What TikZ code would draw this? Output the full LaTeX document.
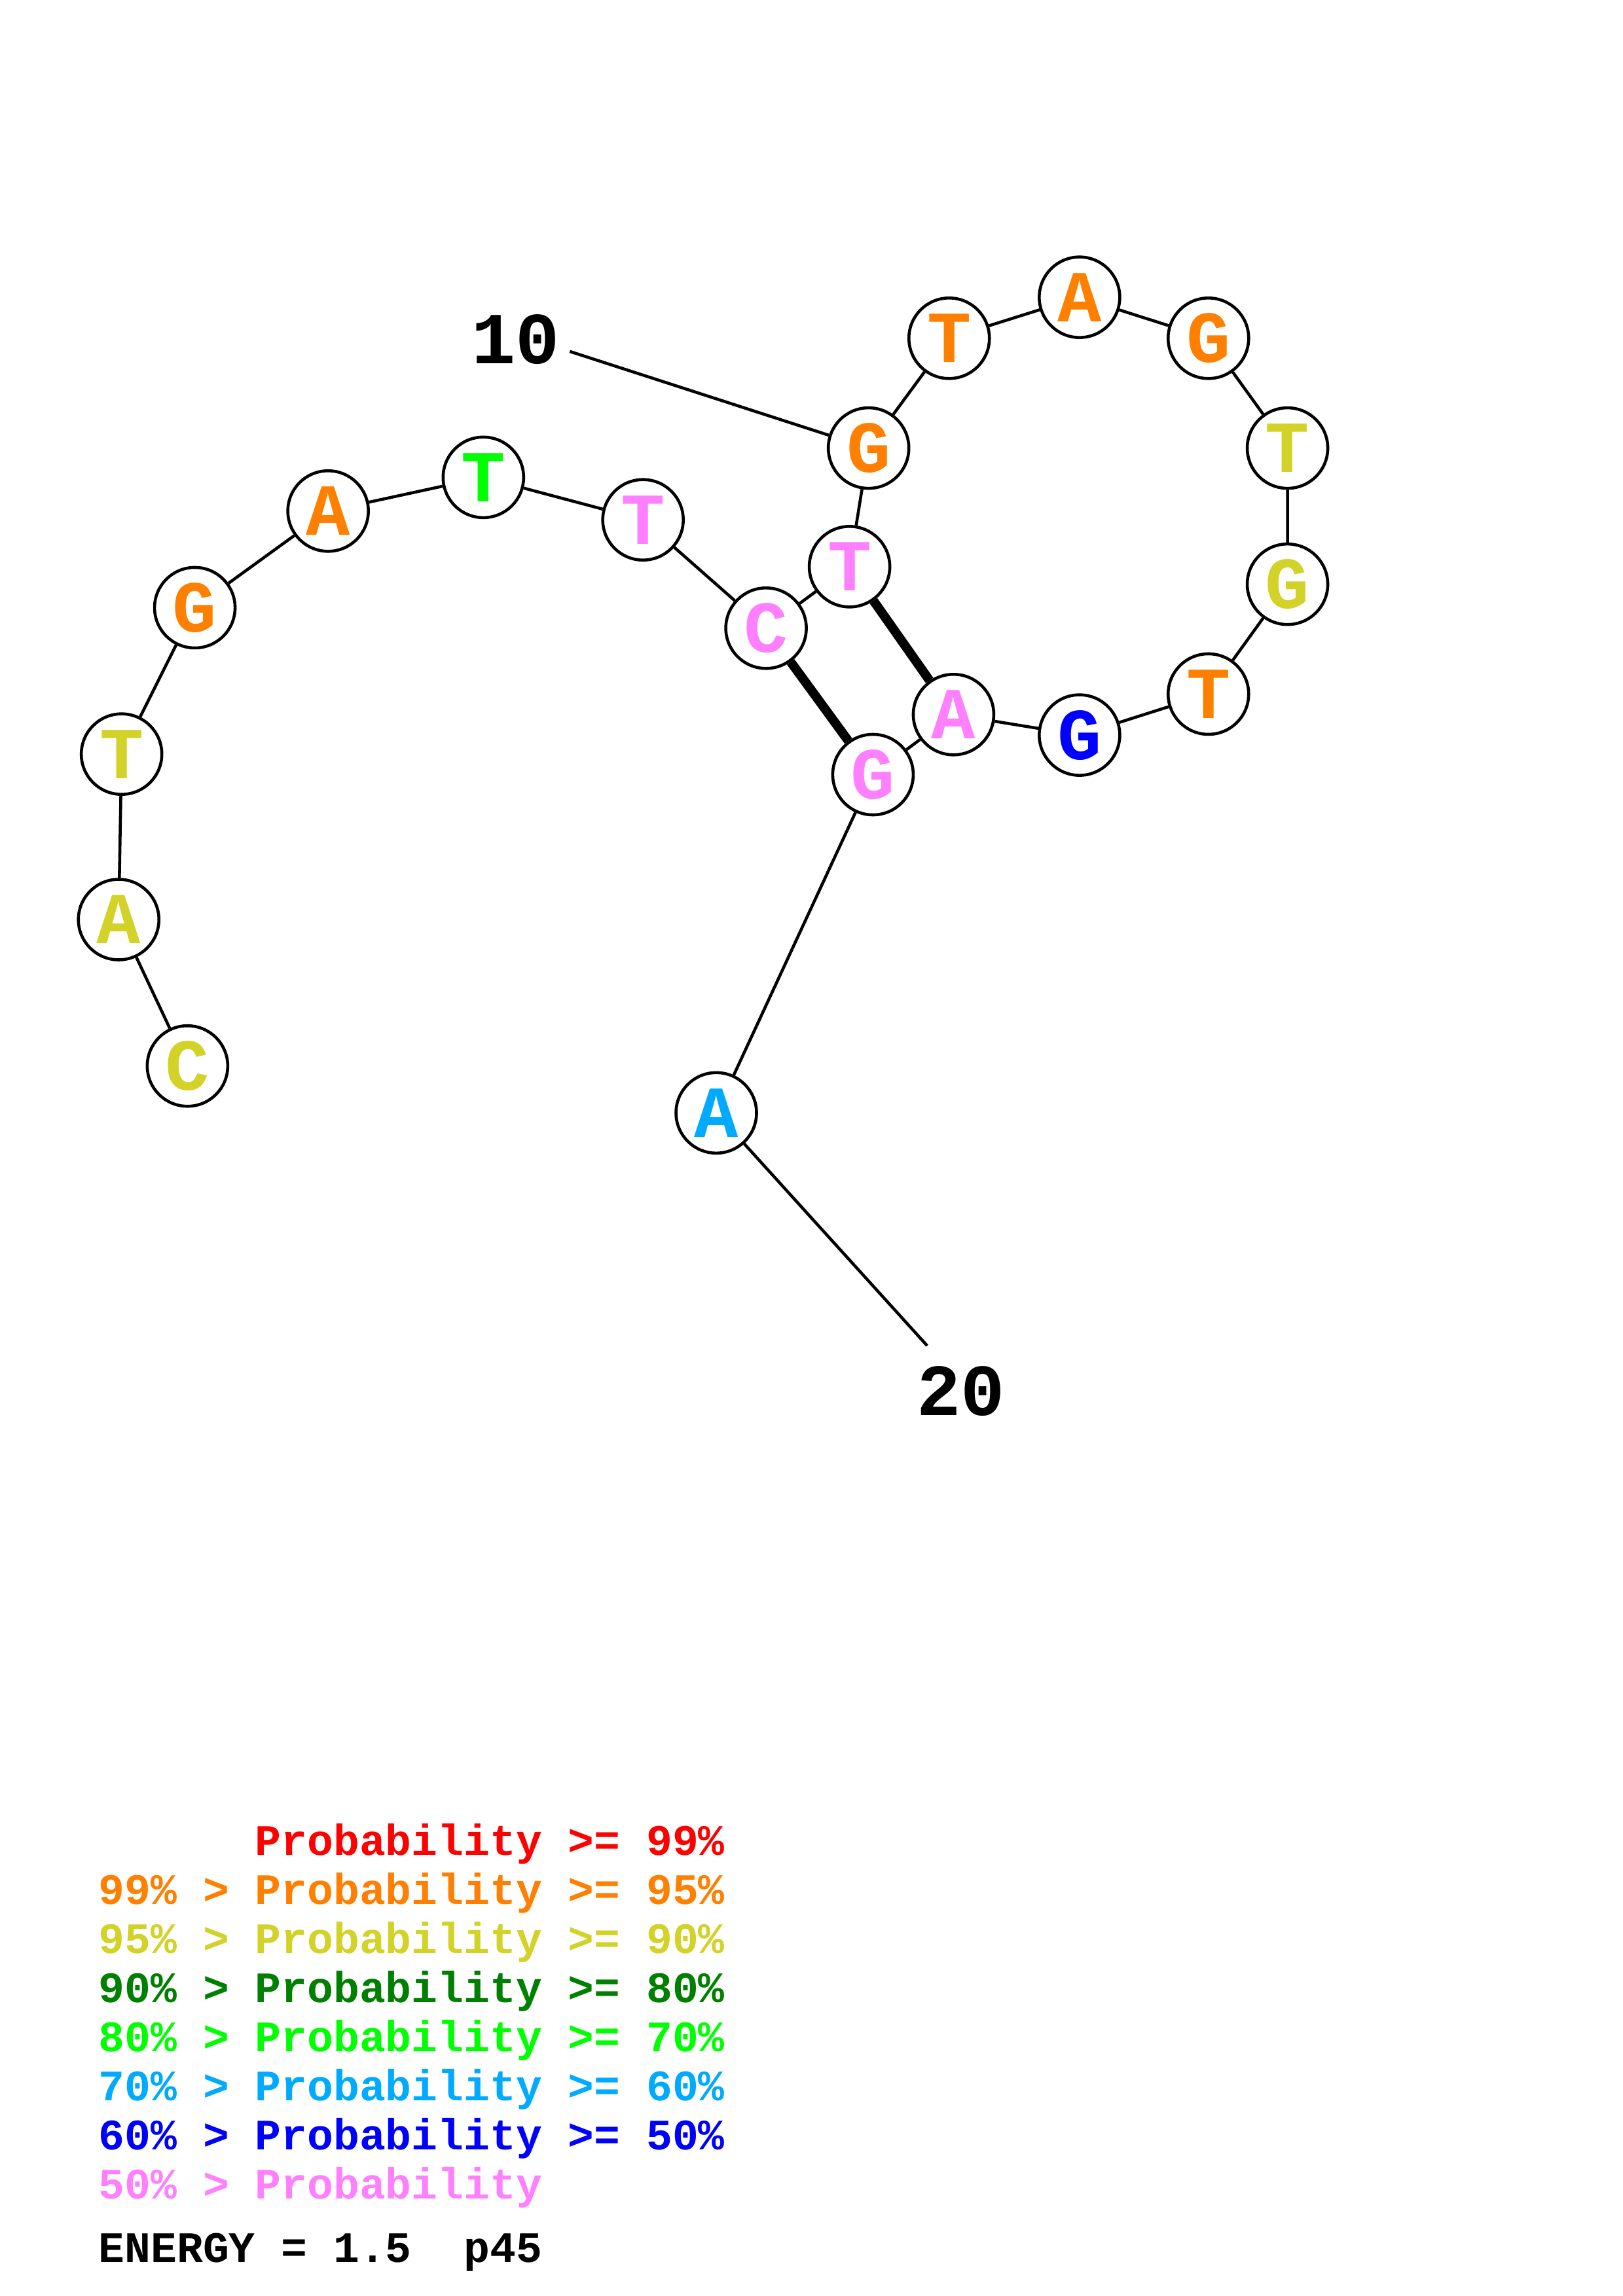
\documentclass[tikz,border=0pt]{standalone}
\usepackage{fontspec}
\setmonofont{Liberation Mono}
\definecolor{pred}{RGB}{255,0,0}
\definecolor{porange}{RGB}{255,128,0}
\definecolor{pyellow}{RGB}{210,210,40}
\definecolor{pdgreen}{RGB}{0,128,0}
\definecolor{pgreen}{RGB}{0,255,0}
\definecolor{pcyan}{RGB}{0,170,255}
\definecolor{pblue}{RGB}{0,0,255}
\definecolor{ppink}{RGB}{255,128,255}
\begin{document}
\begin{tikzpicture}[x=0.018953cm,y=-0.018953cm,
    nuc/.style={circle,draw,fill=white,line width=1.1pt,minimum size=1.042cm,inner sep=0pt,
      font=\ttfamily\bfseries\fontsize{27}{27}\selectfont},
    bb/.style={line width=1.1pt},
    pair/.style={line width=3.4pt},
    num/.style={font=\ttfamily\bfseries\fontsize{27}{27}\selectfont},
    leg/.style={anchor=base west,inner sep=0pt,font=\ttfamily\bfseries\fontsize{16}{16}\selectfont}]
        \useasboundingbox (0,0) rectangle (1108,1568);
        \node[nuc,text=pyellow] (n1) at (128,728) {C};
        \node[nuc,text=pyellow] (n2) at (81,628) {A};
        \node[nuc,text=pyellow] (n3) at (83,515) {T};
        \node[nuc,text=porange] (n4) at (133,415) {G};
        \node[nuc,text=porange] (n5) at (224,349) {A};
        \node[nuc,text=pgreen] (n6) at (330,326) {T};
        \node[nuc,text=ppink] (n7) at (439,355) {T};
        \node[nuc,text=ppink] (n8) at (523,429) {C};
        \node[nuc,text=ppink] (n9) at (580,387) {T};
        \node[nuc,text=porange] (n10) at (593,306) {G};
        \node[nuc,text=porange] (n11) at (648,231) {T};
        \node[nuc,text=porange] (n12) at (737,203) {A};
        \node[nuc,text=porange] (n13) at (825,231) {G};
        \node[nuc,text=pyellow] (n14) at (879,306) {T};
        \node[nuc,text=pyellow] (n15) at (879,399) {G};
        \node[nuc,text=porange] (n16) at (825,474) {T};
        \node[nuc,text=pblue] (n17) at (737,502) {G};
        \node[nuc,text=ppink] (n18) at (651,488) {A};
        \node[nuc,text=ppink] (n19) at (596,529) {G};
        \node[nuc,text=pcyan] (n20) at (489,760) {A};
        \draw[bb] (n1) -- (n2) -- (n3) -- (n4) -- (n5) -- (n6) -- (n7) -- (n8) -- (n9) -- (n10)
          -- (n11) -- (n12) -- (n13) -- (n14) -- (n15) -- (n16) -- (n17) -- (n18) -- (n19) -- (n20);
        \draw[pair] (n8) -- (n19);
        \draw[pair] (n9) -- (n18);
        \coordinate (tick10) at (389,240);
        \coordinate (tick20) at (633,919);
        \node[num] (lbl10) at (352,232) {10};
        \node[num] (lbl20) at (656,950) {20};
        \draw[bb] (n10) -- (tick10);
        \draw[bb] (n20) -- (tick20);
        % legend
        \node[leg,text=pred] (p1) at (67,1267) {\phantom{99\% > }Probability >= 99\%};
        \node[leg,text=porange] (p2) at (67,1300.5) {99\% > Probability >= 95\%};
        \node[leg,text=pyellow] (p3) at (67,1334) {95\% > Probability >= 90\%};
        \node[leg,text=pdgreen] (p4) at (67,1367.5) {90\% > Probability >= 80\%};
        \node[leg,text=pgreen] (p5) at (67,1401) {80\% > Probability >= 70\%};
        \node[leg,text=pcyan] (p6) at (67,1434.5) {70\% > Probability >= 60\%};
        \node[leg,text=pblue] (p7) at (67,1468) {60\% > Probability >= 50\%};
        \node[leg,text=ppink] (p8) at (67,1501.5) {50\% > Probability};
        \node[leg] (energy) at (67,1545) {ENERGY = 1.5\ \ p45};
\end{tikzpicture}
\end{document}
